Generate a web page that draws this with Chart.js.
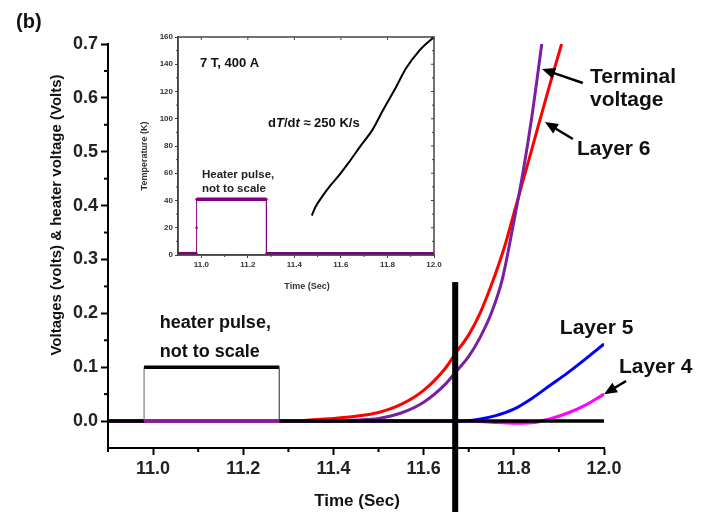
<!DOCTYPE html>
<html>
<head>
<meta charset="utf-8">
<script src="https://cdn.jsdelivr.net/npm/chart.js@4/dist/chart.umd.min.js"></script>
<style>
  body { margin: 0; background: #fff; }
  #wrap { position: relative; width: 706px; height: 512px; }
  #mainChart { position: absolute; left: 0; top: 0; }
  #insetChart { position: absolute; left: 130px; top: 28px; }
</style>
</head>
<body>
<div id="wrap">
  <canvas id="mainChart" width="706" height="512"></canvas>
  <canvas id="insetChart" width="320" height="272"></canvas>
</div>
<script>
const FONT = '"Liberation Sans", Arial, sans-serif';

// main chart axes
const xTicks = [11.0, 11.2, 11.4, 11.6, 11.8, 12.0];
const xMinorTicks = [10.9, 11.1, 11.3, 11.5, 11.7, 11.9];
const yTicks = [0, 0.1, 0.2, 0.3, 0.4, 0.5, 0.6, 0.7];
const yMinorTicks = [0.05, 0.15, 0.25, 0.35, 0.45, 0.55, 0.65];

// heater pulse (volts)
const heaterTime = [10.9, 10.98, 10.98, 11.28, 11.28, 12.0];
const heaterVolt = [0.0, 0.0, 0.1, 0.1, 0.0, 0.0];

// layer 6 (red)
const layer6Time = [10.9, 11.3, 11.4, 11.45, 11.5, 11.55, 11.6, 11.65, 11.67, 11.7, 11.725, 11.75, 11.78, 11.8, 11.84, 11.88, 11.906];
const layer6Volt = [0.0, 0.0, 0.005, 0.009, 0.016, 0.031, 0.057, 0.1, 0.125, 0.16, 0.2, 0.252, 0.325, 0.385, 0.505, 0.625, 0.70];

// terminal voltage (purple)
const terminalTime = [10.9, 11.4, 11.45, 11.5, 11.55, 11.6, 11.65, 11.67, 11.7, 11.725, 11.75, 11.775, 11.8, 11.82, 11.84, 11.862];
const terminalVolt = [0.0, 0.0, 0.002, 0.005, 0.015, 0.035, 0.07, 0.09, 0.12, 0.155, 0.2, 0.265, 0.37, 0.46, 0.565, 0.70];

// layer 5 (blue)
const layer5Time = [10.9, 11.68, 11.72, 11.76, 11.8, 11.84, 11.88, 11.92, 11.96, 12.0];
const layer5Volt = [0.0, 0.0, 0.003, 0.01, 0.022, 0.042, 0.066, 0.09, 0.116, 0.143];

// layer 4 (magenta)
const layer4Time = [10.9, 11.7, 11.75, 11.8, 11.85, 11.88, 11.92, 11.96, 12.0];
const layer4Volt = [0.0, 0.0, -0.002, -0.004, -0.002, 0.004, 0.015, 0.03, 0.05];

// inset
const insetXTicks = [11.0, 11.2, 11.4, 11.6, 11.8, 12.0];
const insetYTicks = [0, 20, 40, 60, 80, 100, 120, 140, 160];
const pulseTime = [10.9, 10.98, 10.98, 10.98, 11.28, 11.28, 12.0];
const pulseTemp = [1, 1, 20, 41, 41, 1, 1];
const tempTime = [11.475, 11.49, 11.52, 11.55, 11.59, 11.63, 11.68, 11.736, 11.78, 11.836, 11.88, 11.937, 12.0];
const tempK = [29, 35, 43, 50, 58, 67, 79, 92, 106, 123, 137, 150, 160];

function pts(xs, ys) {
  return xs.map((x, i) => ({ x: x, y: ys[i] }));
}

function arrow(ctx, x1, y1, x2, y2) {
  // line from tail (x1,y1) to tip (x2,y2) with filled head
  const a = Math.atan2(y2 - y1, x2 - x1);
  const len = 13, w = 5.5;
  ctx.save();
  ctx.strokeStyle = '#000';
  ctx.fillStyle = '#000';
  ctx.lineWidth = 2.5;
  ctx.beginPath();
  ctx.moveTo(x1, y1);
  ctx.lineTo(x2 - Math.cos(a) * len * 0.8, y2 - Math.sin(a) * len * 0.8);
  ctx.stroke();
  ctx.beginPath();
  ctx.moveTo(x2, y2);
  ctx.lineTo(x2 - Math.cos(a) * len - Math.sin(a) * w, y2 - Math.sin(a) * len + Math.cos(a) * w);
  ctx.lineTo(x2 - Math.cos(a) * len + Math.sin(a) * w, y2 - Math.sin(a) * len - Math.cos(a) * w);
  ctx.closePath();
  ctx.fill();
  ctx.restore();
}

const thinVertical = ctx => ctx.p0.parsed.x === ctx.p1.parsed.x ? 1 : 3.5;

const mainDecor = {
  id: 'mainDecor',
  afterDraw(chart) {
    const ctx = chart.ctx;
    const sx = chart.scales.x, sy = chart.scales.y;
    const X = v => sx.getPixelForValue(v), Y = v => sy.getPixelForValue(v);
    ctx.save();
    // minor ticks
    ctx.strokeStyle = '#000';
    ctx.lineWidth = 2;
    yMinorTicks.forEach(v => {
      ctx.beginPath(); ctx.moveTo(sx.left - 4, Y(v)); ctx.lineTo(sx.left, Y(v)); ctx.stroke();
    });
    xMinorTicks.forEach(v => {
      ctx.beginPath(); ctx.moveTo(X(v), sy.bottom); ctx.lineTo(X(v), sy.bottom + 4); ctx.stroke();
    });

    // vertical marker
    ctx.fillStyle = '#000';
    const vx = X(11.67);
    ctx.fillRect(vx - 3, Y(0.258), 6, chart.height - Y(0.258));

    // titles
    ctx.fillStyle = '#111';
    ctx.font = 'bold 20px ' + FONT;
    ctx.textAlign = 'left';
    ctx.textBaseline = 'alphabetic';
    ctx.fillText('(b)', 16, 28);

    ctx.font = 'bold 17px ' + FONT;
    ctx.textAlign = 'center';
    ctx.fillText('Time (Sec)', 357, 506);

    ctx.save();
    ctx.translate(61, 215);
    ctx.rotate(-Math.PI / 2);
    ctx.font = 'bold 15px ' + FONT;
    ctx.fillText('Voltages (volts) & heater voltage (Volts)', 0, 0);
    ctx.restore();

    // labels
    ctx.textAlign = 'left';
    ctx.font = 'bold 18px ' + FONT;
    ctx.fillText('heater pulse,', X(11.015), Y(0.1727));
    ctx.fillText('not to scale', X(11.015), Y(0.1188));

    ctx.font = 'bold 21px ' + FONT;
    ctx.fillText('Terminal', X(11.969), Y(0.6276));
    ctx.fillText('voltage', X(11.969), Y(0.584));
    ctx.fillText('Layer 6', X(11.940), Y(0.4939));
    ctx.fillText('Layer 5', X(11.902), Y(0.1615));
    ctx.fillText('Layer 4', X(12.033), Y(0.0891));

    arrow(ctx, X(11.953), Y(0.6276), X(11.8625), Y(0.6536));
    arrow(ctx, X(11.931), Y(0.5236), X(11.869), Y(0.5551));
    arrow(ctx, X(12.049), Y(0.0743), X(12.0), Y(0.050));
    ctx.restore();
  }
};

const tickFont = { family: FONT, size: 18, weight: 'bold' };
const smooth = { cubicInterpolationMode: 'monotone', pointRadius: 0, borderWidth: 3 };

new Chart(document.getElementById('mainChart'), {
  type: 'line',
  data: {
    datasets: [
      { data: pts(heaterTime, heaterVolt), borderColor: '#000', borderWidth: 3.5, segment: { borderWidth: thinVertical, borderColor: ctx => ctx.p0.parsed.x === ctx.p1.parsed.x ? '#666' : '#000' }, pointRadius: 0, order: 0 },
      Object.assign({ data: pts(terminalTime, terminalVolt), borderColor: '#7b1fa2', order: 1 }, smooth),
      Object.assign({ data: pts(layer6Time, layer6Volt), borderColor: '#ff0000', order: 2 }, smooth),
      Object.assign({ data: pts(layer5Time, layer5Volt), borderColor: '#0000ff', order: 3 }, smooth),
      Object.assign({ data: pts(layer4Time, layer4Volt), borderColor: '#ff00ff', order: 4 }, smooth)
    ]
  },
  options: {
    responsive: false,
    animation: false,
    layout: { padding: { left: 0, top: 44, right: 102, bottom: 0 } },
    plugins: { legend: { display: false }, tooltip: { enabled: false } },
    scales: {
      x: {
        type: 'linear', min: 10.9, max: 12.0,
        afterBuildTicks: s => { s.ticks = xTicks.map(v => ({ value: v })); },
        afterFit: s => { s.height = 64; },
        grid: { drawOnChartArea: false, tickLength: 7, tickWidth: 2, tickColor: '#000' },
        border: { color: '#000', width: 2 },
        ticks: { font: tickFont, color: '#222', padding: 3, maxRotation: 0, autoSkip: false, callback: v => v.toFixed(1) }
      },
      y: {
        type: 'linear', min: -0.05, max: 0.7,
        afterBuildTicks: s => { s.ticks = yTicks.map(v => ({ value: v })); },
        afterFit: s => { s.width = 108; },
        grid: { drawOnChartArea: false, tickLength: 7, tickWidth: 2, tickColor: '#000' },
        border: { color: '#000', width: 2 },
        ticks: { font: tickFont, color: '#222', padding: 3, autoSkip: false, callback: v => v.toFixed(1) }
      }
    }
  },
  plugins: [mainDecor]
});

const insetDecor = {
  id: 'insetDecor',
  afterDraw(chart) {
    const ctx = chart.ctx;
    const a = chart.chartArea;
    const sx = chart.scales.x, sy = chart.scales.y;
    const X = v => sx.getPixelForValue(v), Y = v => sy.getPixelForValue(v);
    ctx.save();
    ctx.strokeStyle = '#444';
    ctx.lineWidth = 1.5;
    ctx.strokeRect(a.left, a.top, a.right - a.left, a.bottom - a.top);
    // inner ticks on top and right
    ctx.lineWidth = 1;
    insetXTicks.forEach(v => {
      ctx.beginPath(); ctx.moveTo(X(v), a.top); ctx.lineTo(X(v), a.top + 3); ctx.stroke();
    });
    insetYTicks.forEach(v => {
      ctx.beginPath(); ctx.moveTo(a.right, Y(v)); ctx.lineTo(a.right - 3, Y(v)); ctx.stroke();
    });
    [11.1, 11.3, 11.5, 11.7, 11.9].forEach(v => {
      ctx.beginPath(); ctx.moveTo(X(v), a.bottom); ctx.lineTo(X(v), a.bottom + 2); ctx.stroke();
    });
    [10, 30, 50, 70, 90, 110, 130, 150].forEach(v => {
      ctx.beginPath(); ctx.moveTo(a.left, Y(v)); ctx.lineTo(a.left - 2, Y(v)); ctx.stroke();
      ctx.beginPath(); ctx.moveTo(a.right, Y(v)); ctx.lineTo(a.right - 2, Y(v)); ctx.stroke();
    });

    ctx.fillStyle = '#333';
    ctx.font = 'bold 9px ' + FONT;
    ctx.textAlign = 'center';
    ctx.textBaseline = 'middle';
    ctx.fillText('Time (Sec)', 177, 259);
    ctx.save();
    ctx.translate(15, 128);
    ctx.rotate(-Math.PI / 2);
    ctx.fillText('Temperature (K)', 0, 0);
    ctx.restore();

    ctx.textAlign = 'left';
    ctx.textBaseline = 'alphabetic';
    ctx.fillStyle = '#111';
    ctx.font = 'bold 13px ' + FONT;
    ctx.fillText('7 T, 400 A', 70, 39);

    // dT/dt ≈ 250 K/s with italic T and t
    let x = 138;
    const yb = 99;
    const parts = [['d', ''], ['T', 'italic '], ['/d', ''], ['t', 'italic '], [' \u2248 250 K/s', '']];
    parts.forEach(p => {
      ctx.font = p[1] + 'bold 13px ' + FONT;
      ctx.fillText(p[0], x, yb);
      x += ctx.measureText(p[0]).width;
    });

    ctx.font = 'bold 11.5px ' + FONT;
    ctx.fillStyle = '#222';
    ctx.fillText('Heater pulse,', 72, 150);
    ctx.fillText('not to scale', 72, 164);
    ctx.restore();
  }
};

const insetFont = { family: FONT, size: 8, weight: 'bold' };

new Chart(document.getElementById('insetChart'), {
  type: 'line',
  data: {
    datasets: [
      { data: pts(tempTime, tempK), borderColor: '#000', borderWidth: 2, pointRadius: 0, cubicInterpolationMode: 'monotone' },
      { data: pts(pulseTime, pulseTemp), borderColor: '#800080', borderWidth: 3.5, segment: { borderWidth: thinVertical }, pointRadius: 1.2, pointBackgroundColor: '#800080', pointBorderWidth: 0 }
    ]
  },
  options: {
    responsive: false,
    animation: false,
    layout: { padding: { left: 0, top: 9, right: 16, bottom: 0 } },
    plugins: { legend: { display: false }, tooltip: { enabled: false } },
    scales: {
      x: {
        type: 'linear', min: 10.9, max: 12.0,
        afterBuildTicks: s => { s.ticks = insetXTicks.map(v => ({ value: v })); },
        afterFit: s => { s.height = 45; },
        grid: { drawOnChartArea: false, tickLength: 3, tickColor: '#444' },
        border: { color: '#444', width: 1.5 },
        ticks: { font: insetFont, color: '#333', padding: 2, maxRotation: 0, autoSkip: false, callback: v => v.toFixed(1) }
      },
      y: {
        type: 'linear', min: 0, max: 160,
        afterBuildTicks: s => { s.ticks = insetYTicks.map(v => ({ value: v })); },
        afterFit: s => { s.width = 48; },
        grid: { drawOnChartArea: false, tickLength: 3, tickColor: '#444' },
        border: { color: '#444', width: 1.5 },
        ticks: { font: insetFont, color: '#333', padding: 2, autoSkip: false }
      }
    }
  },
  plugins: [insetDecor]
});
</script>
</body>
</html>
